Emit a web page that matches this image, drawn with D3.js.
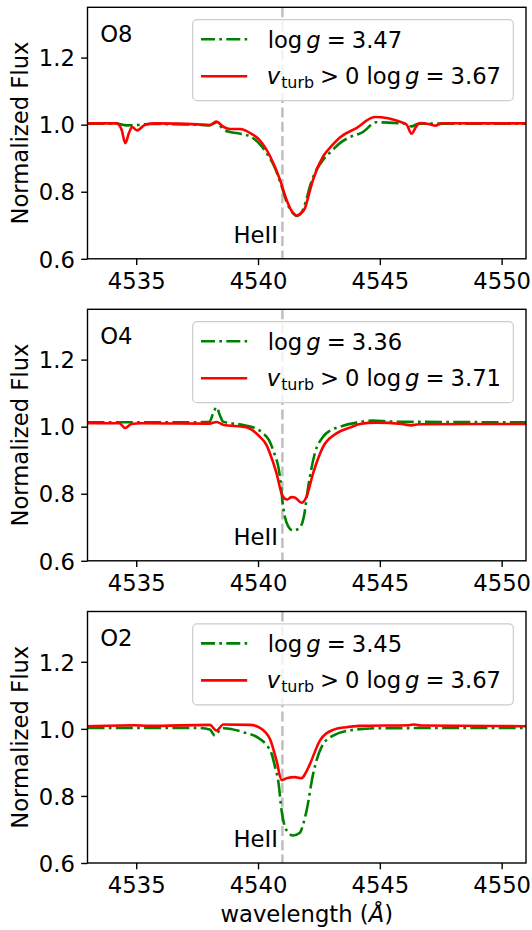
<!DOCTYPE html>
<html>
<head>
<meta charset="utf-8">
<script src="https://cdn.jsdelivr.net/npm/d3@7"></script>
<style>
html,body{margin:0;padding:0;background:#fff;}
svg{display:block;font-family:"DejaVu Sans",sans-serif;}
</style>
</head>
<body>
<svg id="chart" width="532" height="930"></svg>
<script>
// ---------------- DATA ----------------
const panelNames = ["O8", "O4", "O2"];
const greenLabels = ["3.47", "3.36", "3.45"];
const redLabels = ["3.67", "3.71", "3.67"];
const xTicks = [4535, 4540, 4545, 4550];
const yTicks = [0.6, 0.8, 1.0, 1.2];
const heLine = 4541.0;

const o8Green = [[4533.0,1.003],[4534.2,1.003],[4534.6,0.998],[4535.0,0.999],[4535.5,1.002],[4537.0,1.001],[4538.0,0.998],[4538.28,1.006],[4538.6,0.985],[4538.85,0.978],[4539.27,0.973],[4539.67,0.965],[4540.1,0.94],[4540.4,0.91],[4540.7,0.87],[4540.97,0.816],[4541.2,0.765],[4541.45,0.735],[4541.6,0.728],[4541.8,0.74],[4542.0,0.78],[4542.13,0.816],[4542.4,0.865],[4542.67,0.895],[4543.0,0.92],[4543.36,0.945],[4543.77,0.963],[4544.3,0.978],[4544.85,1.007],[4545.8,1.004],[4546.0,1.003],[4546.3,0.995],[4546.6,1.003],[4551.0,1.003]];
const o8Red = [[4533.0,1.004],[4534.2,1.004],[4534.4,0.985],[4534.55,0.945],[4534.7,0.975],[4534.83,0.993],[4535.03,0.983],[4535.37,1.0],[4535.8,1.004],[4537.5,1.001],[4538.04,0.999],[4538.28,1.009],[4538.59,0.993],[4538.86,0.987],[4539.27,0.987],[4539.68,0.975],[4540.09,0.952],[4540.5,0.905],[4540.9,0.836],[4541.17,0.776],[4541.4,0.74],[4541.58,0.729],[4541.75,0.735],[4541.92,0.75],[4542.1,0.795],[4542.26,0.836],[4542.67,0.905],[4543.0,0.935],[4543.36,0.962],[4544.04,0.99],[4544.79,1.023],[4545.89,1.007],[4546.1,1.0],[4546.3,0.973],[4546.5,0.995],[4546.64,1.005],[4547.0,1.002],[4547.3,0.997],[4547.55,1.004],[4551.0,1.004]];

const o4Green = [[4533.0,1.013],[4535.0,1.013],[4537.0,1.013],[4538.0,1.014],[4538.16,1.04],[4538.3,1.058],[4538.43,1.035],[4538.57,1.015],[4539.39,1.005],[4539.9,0.995],[4540.21,0.98],[4540.45,0.96],[4540.62,0.93],[4540.9,0.85],[4541.03,0.761],[4541.24,0.703],[4541.44,0.69],[4541.69,0.697],[4541.88,0.731],[4542.06,0.821],[4542.33,0.92],[4542.67,0.97],[4543.0,0.99],[4543.36,1.0],[4544.04,1.012],[4544.7,1.018],[4545.5,1.015],[4551.0,1.013]];
const o4Red = [[4533.0,1.01],[4534.3,1.01],[4534.55,0.996],[4534.8,1.008],[4535.2,1.01],[4538.0,1.009],[4538.3,1.014],[4538.57,1.006],[4539.52,0.998],[4539.9,0.982],[4540.07,0.97],[4540.35,0.945],[4540.49,0.92],[4540.76,0.861],[4540.97,0.80],[4541.1,0.785],[4541.2,0.783],[4541.38,0.79],[4541.51,0.789],[4541.79,0.773],[4541.99,0.791],[4542.26,0.861],[4542.67,0.94],[4543.22,0.98],[4543.8,0.998],[4544.18,1.008],[4544.85,1.012],[4545.9,1.008],[4546.3,1.004],[4546.6,1.007],[4551.0,1.008]];

const o2Green = [[4533.0,1.003],[4537.5,1.003],[4538.02,0.998],[4538.23,0.98],[4538.45,0.998],[4538.6,1.002],[4539.39,0.99],[4540.08,0.97],[4540.35,0.952],[4540.56,0.925],[4540.72,0.88],[4540.83,0.845],[4540.97,0.755],[4541.15,0.70],[4541.44,0.682],[4541.72,0.69],[4541.85,0.715],[4541.99,0.755],[4542.26,0.865],[4542.6,0.945],[4543.08,0.98],[4543.9,0.997],[4545.0,1.002],[4551.0,1.003]];
const o2Red = [[4533.0,1.008],[4534.9,1.011],[4535.5,1.009],[4538.02,1.012],[4538.3,0.995],[4538.57,1.013],[4539.67,1.012],[4540.08,1.003],[4540.3,0.99],[4540.49,0.97],[4540.76,0.905],[4540.97,0.847],[4541.17,0.853],[4541.51,0.856],[4541.79,0.853],[4541.95,0.868],[4542.13,0.895],[4542.54,0.965],[4543.08,0.997],[4543.6,1.005],[4544.18,1.009],[4546.2,1.011],[4546.4,1.013],[4546.7,1.01],[4551.0,1.008]];

const greenSeries = [o8Green, o4Green, o2Green];
const redSeries = [o8Red, o4Red, o2Red];

// ---------------- LAYOUT ----------------
const FS = 22.7;
const left = 87.5, right = 526;
const tops = [7.3, 309.3, 611.5];
const ph = 251.5;
const GREEN = "#008000", RED = "#ff0000";

const svg = d3.select("#chart");
const x = d3.scaleLinear().domain([4533, 4551]).range([left, right]);

tops.forEach((top, i) => {
  const bottom = top + ph;
  const y = d3.scaleLinear().domain([0.6, 1.35]).range([bottom, top]);
  const g = svg.append("g");

  const clipId = "clip" + i;
  svg.append("clipPath").attr("id", clipId)
    .append("rect").attr("x", left).attr("y", top).attr("width", right - left).attr("height", ph);

  const plot = g.append("g").attr("clip-path", `url(#${clipId})`);

  // vertical dashed line
  plot.append("line")
    .attr("x1", x(heLine)).attr("x2", x(heLine))
    .attr("y1", top).attr("y2", bottom)
    .attr("stroke", "#bfbfbf").attr("stroke-width", 2.5)
    .attr("stroke-dasharray", "10,4.3");

  const line = d3.line().x(d => x(d[0])).y(d => y(d[1])).curve(d3.curveMonotoneX);

  plot.append("path").datum(greenSeries[i])
    .attr("d", line).attr("fill", "none")
    .attr("stroke", GREEN).attr("stroke-width", 2.6)
    .attr("stroke-dasharray", "17,4.3,2.7,4.3");

  plot.append("path").datum(redSeries[i])
    .attr("d", line).attr("fill", "none")
    .attr("stroke", RED).attr("stroke-width", 2.6)
    .attr("stroke-linejoin", "round");

  // HeII label
  g.append("text")
    .attr("x", x(heLine) - 4.5).attr("y", bottom - 16)
    .attr("text-anchor", "end").attr("font-size", FS).attr("fill", "#000")
    .text("HeII");

  // panel name
  g.append("text")
    .attr("x", left + 12.7).attr("y", top + 34.5)
    .attr("font-size", FS).attr("fill", "#000")
    .text(panelNames[i]);

  // axes
  const xAxis = d3.axisBottom(x).tickValues(xTicks).tickSize(6.3).tickPadding(6.3).tickFormat(d3.format("d"));
  const yAxis = d3.axisLeft(y).tickValues(yTicks).tickSize(6.3).tickPadding(6.3).tickFormat(d3.format(".1f"));

  const gx = g.append("g").attr("transform", `translate(0,${bottom})`).call(xAxis);
  const gy = g.append("g").attr("transform", `translate(${left},0)`).call(yAxis);
  [gx, gy].forEach(ax => {
    ax.select(".domain").remove();
    ax.selectAll(".tick line").attr("stroke", "#000").attr("stroke-width", 1.4);
    ax.selectAll(".tick text").attr("font-size", FS).attr("fill", "#000")
      .attr("font-family", "DejaVu Sans");
  });
  gx.selectAll(".tick text").attr("dy", null).attr("y", 29.8);
  gy.selectAll(".tick text").attr("dy", null).attr("dominant-baseline", null).attr("y", 8.2);

  // frame
  g.append("rect")
    .attr("x", left).attr("y", top).attr("width", right - left).attr("height", ph)
    .attr("fill", "none").attr("stroke", "#000").attr("stroke-width", 1.4);

  // y label
  g.append("text")
    .attr("transform", `translate(28,${(top + bottom) / 2}) rotate(-90)`)
    .attr("text-anchor", "middle").attr("font-size", FS).attr("fill", "#000")
    .text("Normalized Flux");

  // legend
  const lx = 192.7, ly = top + 12.4, lw = right - 12.7 - lx, lh = 81;
  const leg = g.append("g");
  leg.append("rect")
    .attr("x", lx).attr("y", ly).attr("width", lw).attr("height", lh)
    .attr("rx", 4.3).attr("ry", 4.3)
    .attr("fill", "#fff").attr("fill-opacity", 0.8)
    .attr("stroke", "#cccccc").attr("stroke-width", 1.2);

  leg.append("line")
    .attr("x1", lx + 8.3).attr("x2", lx + 54.5)
    .attr("y1", ly + 19.5).attr("y2", ly + 19.5)
    .attr("stroke", GREEN).attr("stroke-width", 2.6)
    .attr("stroke-dasharray", "14,4.3,2.7,4.3");
  leg.append("line")
    .attr("x1", lx + 8.3).attr("x2", lx + 54.5)
    .attr("y1", ly + 56.5).attr("y2", ly + 56.5)
    .attr("stroke", RED).attr("stroke-width", 2.6);

  const t1 = leg.append("text")
    .attr("x", lx + 75).attr("y", ly + 27.8)
    .attr("font-size", FS).attr("fill", "#000");
  t1.append("tspan").text("log");
  t1.append("tspan").attr("font-style", "italic").attr("dx", 4).text("g");
  t1.append("tspan").attr("dx", 6).text("=");
  t1.append("tspan").attr("dx", 6).text(greenLabels[i]);

  const t2 = leg.append("text")
    .attr("x", lx + 74).attr("y", ly + 63.8)
    .attr("font-size", FS).attr("fill", "#000");
  t2.append("tspan").attr("font-style", "italic").text("v");
  t2.append("tspan").attr("font-size", FS * 0.7).attr("dy", 4.4).attr("dx", 1).text("turb");
  t2.append("tspan").attr("dy", -4.4).attr("dx", 6).text(">");
  t2.append("tspan").attr("dx", 6).text("0");
  t2.append("tspan").attr("dx", 7).text("log");
  t2.append("tspan").attr("font-style", "italic").attr("dx", 4).text("g");
  t2.append("tspan").attr("dx", 6).text("=");
  t2.append("tspan").attr("dx", 6).text(redLabels[i]);
});

// x label
const xl = svg.append("text")
  .attr("x", (left + right) / 2).attr("y", 922)
  .attr("text-anchor", "middle").attr("font-size", FS).attr("fill", "#000");
xl.append("tspan").text("wavelength (");
xl.append("tspan").attr("font-style", "italic").text("\u00C5");
xl.append("tspan").text(")");
</script>
</body>
</html>
